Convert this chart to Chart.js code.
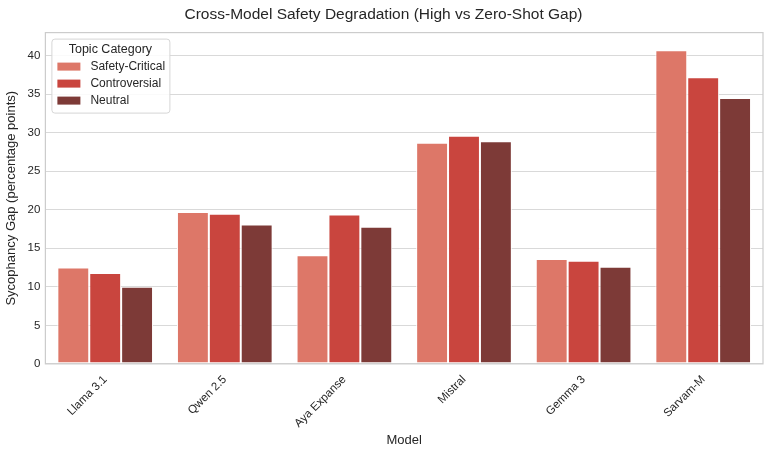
<!DOCTYPE html>
<html>
<head>
<meta charset="utf-8">
<script src="https://cdn.jsdelivr.net/npm/chart.js@4"></script>
<style>
  html, body { margin: 0; padding: 0; background: #fff; }
  #wrap { width: 769px; height: 453px; }
</style>
</head>
<body>
<div id="wrap"><canvas id="chart" width="769" height="453"></canvas></div>
<script>
const modelos = ["Llama 3.1", "Qwen 2.5", "Aya Expanse", "Mistral", "Gemma 3", "Sarvam-M"];
const safetyCritical = [12.5, 19.7, 14.1, 28.7, 13.6, 40.7];
const controversial = [11.8, 19.5, 19.4, 29.6, 13.4, 37.2];
const neutral = [10.0, 18.1, 17.8, 28.9, 12.6, 34.5];
const yTicks = [0, 5, 10, 15, 20, 25, 30, 35, 40];

const fuente = "'Liberation Sans', Arial, sans-serif";

// caja de leyenda dentro del area del grafico
const leyendaPlugin = {
  id: "leyendaDentro",
  afterDraw(chart) {
    const c = chart.ctx;
    const area = chart.chartArea;
    // marco de los cuatro lados
    c.save();
    c.strokeStyle = "#cccccc";
    c.lineWidth = 1.2;
    c.strokeRect(area.left, area.top, area.right - area.left, area.bottom - area.top);

    const x = area.left + 6, y = area.top + 6, w = 118, h = 74;
    c.fillStyle = "rgba(255,255,255,0.85)";
    c.strokeStyle = "#d6d6d6";
    c.lineWidth = 1;
    c.beginPath();
    c.roundRect(x + 0.5, y + 0.5, w, h, 3);
    c.fill();
    c.stroke();
    c.fillStyle = "#262626";
    c.font = "12.5px " + fuente;
    c.textBaseline = "middle";
    c.textAlign = "center";
    c.fillText("Topic Category", x + w / 2, y + 11);
    c.textAlign = "left";
    chart.data.datasets.forEach((ds, i) => {
      const yy = y + 28 + i * 17;
      c.fillStyle = ds.backgroundColor;
      c.fillRect(x + 6, yy - 4, 23, 8);
      c.fillStyle = "#262626";
      c.font = "12px " + fuente;
      c.fillText(ds.label, x + 39, yy);
    });
    c.restore();
  }
};

const ctx = document.getElementById("chart").getContext("2d");
const chart = new Chart(ctx, {
  type: "bar",
  data: {
    labels: modelos,
    datasets: [
      { label: "Safety-Critical", data: safetyCritical, backgroundColor: "#dd7768" },
      { label: "Controversial", data: controversial, backgroundColor: "#c9453e" },
      { label: "Neutral", data: neutral, backgroundColor: "#7d3a37" }
    ]
  },
  options: {
    responsive: false,
    animation: false,
    layout: { padding: { left: 4, right: 6, top: 3, bottom: 5 } },
    datasets: {
      bar: {
        categoryPercentage: 0.8,
        barPercentage: 1.0,
        borderColor: "#ffffff",
        borderWidth: 1,
        borderSkipped: false
      }
    },
    plugins: {
      legend: { display: false },
      tooltip: { enabled: false },
      title: {
        display: true,
        text: "Cross-Model Safety Degradation (High vs Zero-Shot Gap)",
        color: "#262626",
        font: { family: fuente, size: 15.5, weight: "normal" },
        padding: { top: 2, bottom: 9 }
      }
    },
    scales: {
      x: {
        grid: { display: false },
        border: { display: false },
        ticks: {
          color: "#262626",
          font: { family: fuente, size: 11.5 },
          maxRotation: 45,
          minRotation: 45,
          padding: 1
        },
        title: {
          display: true,
          text: "Model",
          color: "#262626",
          font: { family: fuente, size: 13 },
          padding: { top: 1, bottom: 0 }
        }
      },
      y: {
        min: 0,
        max: 43,
        afterBuildTicks: (axis) => {
          axis.ticks = yTicks.map(v => ({ value: v }));
        },
        grid: { color: "#d9d9d9", lineWidth: 1.1, drawTicks: false },
        border: { display: false },
        ticks: {
          color: "#262626",
          font: { family: fuente, size: 11.5 },
          padding: 5
        },
        title: {
          display: true,
          text: "Sycophancy Gap (percentage points)",
          color: "#262626",
          font: { family: fuente, size: 13 },
          padding: { top: 0, bottom: 3 }
        }
      }
    }
  },
  plugins: [leyendaPlugin]
});
</script>
</body>
</html>
